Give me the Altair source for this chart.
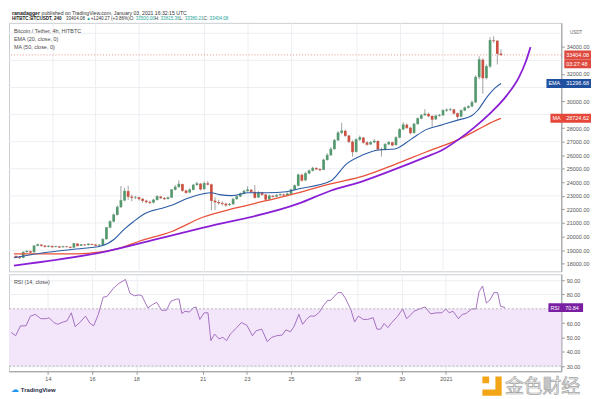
import altair as alt
import pandas as pd

# ---------------- data ----------------
opens = [18560, 18480, 18430, 18850, 18920, 18840, 19310, 19400, 19330, 19250,
         19300, 19230, 19270, 19210, 19260, 19240, 19180, 19480, 19320, 19400,
         19370, 19450, 19410, 19340, 19380, 19800, 20660, 21100, 21600, 22170,
         22660, 23350, 22950, 22880, 22900, 22780, 22650, 22560, 22500, 22700,
         22950, 22850, 22780, 22870, 23450, 23650, 23870, 23400, 23250, 23450,
         23800, 23900, 23500, 23930, 23850, 22650, 22550, 22480, 22420, 22320,
         22380, 22760, 22950, 23150, 23350, 23450, 23300, 22880, 23250, 23100,
         22750, 23000, 22950, 23050, 23100, 23050, 23150, 23450, 23750, 24550,
         24150, 24650, 24850, 25050, 24980, 24920, 25650, 26000, 26450, 27100,
         27650, 27800, 27450, 27000, 26250, 27150, 27300, 26950, 26800, 26950,
         27050, 26450, 26400, 26800, 26950, 26750, 27300, 27900, 28250, 28030,
         27650, 28300, 28700, 28950, 29050, 28900, 28650, 28900, 28950, 29300,
         29350, 29380, 29100, 28850, 29300, 29500, 29600, 29900, 31760, 33050,
         31700, 32550, 34480, 34450, 33500]
closes = [18480, 18430, 18850, 18920, 18840, 19310, 19400, 19330, 19250, 19300,
          19230, 19270, 19210, 19260, 19240, 19180, 19480, 19320, 19400, 19370,
          19450, 19410, 19340, 19380, 19800, 20660, 21100, 21600, 22170, 22660,
          23350, 22950, 22880, 22900, 22780, 22650, 22560, 22500, 22700, 22950,
          22850, 22780, 22870, 23450, 23650, 23870, 23400, 23250, 23450, 23800,
          23900, 23500, 23930, 23850, 22650, 22550, 22480, 22420, 22320, 22380,
          22760, 22950, 23150, 23350, 23450, 23300, 22880, 23250, 23100, 22750,
          23000, 22950, 23050, 23100, 23050, 23150, 23450, 23750, 24550, 24150,
          24650, 24850, 25050, 24980, 24920, 25650, 26000, 26450, 27100, 27650,
          27800, 27450, 27000, 26250, 27150, 27300, 26950, 26800, 26950, 27050,
          26450, 26400, 26800, 26950, 26750, 27300, 27900, 28250, 28030, 27650,
          28300, 28700, 28950, 29050, 28900, 28650, 28900, 28950, 29300, 29350,
          29380, 29100, 28850, 29300, 29500, 29600, 29900, 31760, 33050, 31700,
          32550, 34480, 34450, 33500, 33404.08]
highs = [18620, 18560, 18900, 18990, 18960, 19350, 19480, 19450, 19380, 19350,
         19330, 19320, 19300, 19310, 19300, 19280, 19520, 19500, 19450, 19440,
         19500, 19480, 19440, 19420, 19850, 20700, 21200, 21700, 22300, 23730,
         23600, 23750, 23100, 23000, 22950, 22850, 22720, 22650, 22780, 23050,
         23000, 22900, 22950, 23500, 23800, 24150, 23900, 23450, 23550, 23880,
         24050, 23950, 24050, 24100, 23900, 22900, 22700, 22600, 22500, 22500,
         22850, 23050, 23250, 23450, 23700, 23500, 23800, 23350, 23300, 23150,
         23100, 23080, 23120, 23180, 23150, 23250, 23520, 23850, 24650, 24650,
         24750, 24950, 25150, 25120, 25050, 25750, 26150, 26600, 27200, 27800,
         28390, 27900, 27500, 27100, 27250, 27450, 27350, 27050, 27050, 27200,
         27100, 26550, 26900, 27050, 27000, 27400, 28000, 28450, 28350, 28100,
         28400, 28800, 29050, 29400, 29150, 28950, 29000, 29050, 29400, 29450,
         29500, 29420, 29150, 29400, 29600, 29700, 30050, 31900, 33300, 33150,
         32700, 34720, 34780, 34500, 33815.36]
lows = [18420, 18350, 18400, 18800, 18780, 18820, 19280, 19250, 19200, 19200,
        19180, 19190, 19150, 19180, 19190, 19120, 19160, 19280, 19290, 19320,
        19340, 19360, 19300, 19300, 19350, 19780, 20600, 21050, 21550, 22100,
        22600, 22700, 22600, 22750, 22650, 22500, 22450, 22380, 22450, 22650,
        22780, 22700, 22720, 22850, 23400, 23600, 23300, 23150, 23200, 23400,
        23750, 23400, 23450, 23780, 21940, 21950, 22350, 22300, 22200, 22250,
        22350, 22700, 22900, 23100, 23300, 23200, 22800, 22850, 23000, 22650,
        22700, 22880, 22900, 23000, 22980, 23000, 23100, 23400, 23700, 24050,
        24100, 24600, 24800, 24900, 24820, 24900, 25600, 25950, 26400, 27050,
        27550, 27350, 26900, 25900, 26200, 27050, 26850, 26700, 26750, 26900,
        26350, 25900, 26350, 26750, 26650, 26700, 27250, 27850, 27950, 27550,
        27600, 28250, 28650, 28900, 28800, 28100, 28600, 28850, 28900, 29200,
        29250, 29000, 28630, 28800, 29250, 29450, 29550, 29850, 31610, 30540,
        31600, 32450, 34300, 32700, 33380.21]
first_candle = "2020-12-12 08:00"

# EMA 20 (days after Dec 14 00:00, price)
ema_days = [-1.76, -0.40, 1.10, 2.25, 2.86, 3.30, 3.74, 4.32, 5.07, 5.51, 6.21, 6.96,
            7.31, 7.71, 8.28, 9.03, 9.91, 10.79, 11.37, 12.82, 13.57, 14.32, 15.02,
            15.77, 16.52, 17.22, 17.97, 18.72, 19.30, 19.60, 20.04, 20.40, 20.67]
ema_vals = [18430, 18800, 19080, 19300, 19800, 20510, 21090, 21730, 22090, 22300, 22800,
            23160, 23230, 23090, 23020, 23230, 23230, 23310, 23520, 24090, 25380, 26030,
            26390, 26460, 27170, 27890, 28250, 28610, 28890, 29320, 30330, 30970, 31296.68]
# MA 50
ma_days = [-1.76, -0.40, 1.10, 2.25, 3.00, 4.01, 5.51, 6.96, 8.41, 9.91, 11.37, 12.82,
           14.32, 15.77, 17.22, 18.72, 19.60, 20.18, 20.67]
ma_vals = [18720, 18720, 18720, 18865, 19080, 19650, 20370, 21440, 22090, 22660, 23240,
           23880, 24450, 25310, 26240, 27170, 27890, 28390, 28724.62]
# hand-drawn parabolic curve
curve_days = [-1.76, 2.56, 4.76, 6.96, 11.37, 12.82, 14.32, 15.77, 17.22, 17.97, 18.72,
              19.43, 20.18, 20.93, 21.50, 21.81, 22.03]
curve_vals = [17860, 18930, 19790, 20650, 22440, 23380, 24090, 24950, 25880, 26390, 27170,
              28040, 29110, 30400, 31760, 32900, 33980]
# RSI 14
rsi_days = [-1.66, -1.46, -1.24, -0.99, -0.79, -0.57, -0.32, -0.07, 0.05, 0.27, 0.44, 0.69,
            0.86, 1.06, 1.23, 1.44, 1.70, 1.90, 2.07, 2.28, 2.50, 2.67, 2.96, 3.21, 3.51,
            3.71, 3.91, 4.13, 4.25, 4.52, 4.72, 4.92, 5.14, 5.36, 5.56, 5.81, 5.93, 6.06,
            6.20, 6.40, 6.57, 6.70, 6.87, 7.07, 7.24, 7.37, 7.54, 7.74, 7.91, 8.08, 8.25,
            8.50, 8.75, 9.00, 9.25, 9.42, 9.67, 9.92, 10.13, 10.34, 10.60, 10.76, 10.97,
            11.13, 11.35, 11.52, 11.69, 11.86, 12.07, 12.28, 12.44, 12.65, 12.78, 12.95,
            13.12, 13.28, 13.45, 13.70, 13.87, 14.04, 14.26, 14.46, 14.71, 14.88, 15.05,
            15.21, 15.38, 15.55, 15.80, 16.05, 16.22, 16.39, 16.56, 16.81, 17.06, 17.31,
            17.57, 17.82, 17.99, 18.15, 18.32, 18.57, 18.74, 18.91, 19.16, 19.36, 19.50,
            19.66, 19.83, 20.00, 20.17, 20.34, 20.47, 20.67]
rsi_vals = [53.5, 51.2, 58.1, 58.1, 64.9, 66.1, 63.1, 63.1, 63.8, 60.4, 59.2, 60.8, 61.5,
            67.2, 57.6, 60.4, 64.9, 59.9, 58.1, 66.1, 78.1, 78.6, 84.3, 87.7, 90.5, 80.9,
            79.1, 79.7, 79.1, 70.6, 72.9, 74.5, 69.0, 69.0, 75.2, 76.8, 76.8, 66.7, 68.3,
            67.7, 70.6, 71.3, 62.6, 67.2, 67.2, 47.8, 52.4, 49.0, 50.1, 47.8, 52.4, 56.2,
            60.4, 58.5, 51.2, 54.7, 55.8, 47.1, 50.1, 51.2, 51.7, 55.3, 54.0, 57.6, 66.1,
            59.2, 62.6, 64.9, 64.9, 67.7, 71.8, 75.9, 75.9, 78.6, 81.3, 81.3, 77.5, 69.5,
            60.8, 64.9, 62.6, 62.6, 63.8, 55.8, 55.8, 59.7, 56.9, 60.4, 64.5, 69.9, 63.1,
            65.4, 68.3, 69.9, 71.3, 66.5, 67.2, 67.2, 69.9, 67.2, 68.3, 63.1, 66.1, 66.7,
            69.9, 69.9, 82.0, 85.9, 74.0, 76.3, 81.3, 81.3, 71.8, 70.84]

date_ticks = [0, 2, 4, 7, 9, 11, 14, 16, 18]
date_labels = ["14", "16", "18", "21", "23", "25", "28", "30", "2021"]
# labels hidden under the coloured value boxes (29000, 31000, 33000) are left out
price_ticks = [18000, 19000, 20000, 21000, 22000, 23000, 24000, 25000, 26000,
               27000, 28000, 30000, 32000, 34000]
price_grid = [19000, 21000, 23000, 25000, 27000, 29000, 31000, 33000, 35000]
rsi_ticks = [30, 40, 50, 60, 80, 90]
rsi_band = [30, 70]
last_price = 33404.08
last_ema = 31296.68
last_ma = 28724.62
last_rsi = 70.84

header1 = [("ranadagger", "b", "#222222"),
           ("published on TradingView.com, January 03, 2021 16:32:15 UTC", "n", "#333333")]
header2 = [("HITBTC:BTCUSDT, 240", "b", "#222222"), ("33404.08", "n", "#333333"),
           ("▲", "n", "#26a69a"), ("+1240.27 (+3.86%)", "n", "#333333"),
           ("O:", "n", "#333333"), ("33500.00", "n", "#26a69a"), ("H:", "n", "#333333"),
           ("33815.36", "n", "#26a69a"), ("L:", "n", "#333333"), ("33380.21", "n", "#26a69a"),
           ("C:", "n", "#333333"), ("33404.08", "n", "#26a69a")]
header2_nogap = {4, 6, 8, 10}   # "O:" etc. directly followed by their values

# ---------------- layout / style ----------------
W, H1, H2 = 558, 251, 98
XMIN, XMAX = -1.76, 23.22
PMIN, PMAX = 17432, 35770
RMIN, RMAX = 26.4, 94.1
FONT = "Liberation Sans"
FS = 5.5
GREEN, DOWN, WICK = "#55996f", "#cc5040", "#8a8a8a"
GRID = "#eceef2"
AXC = "#555555"

# Arial / Liberation Sans advance widths (per 1000 em)
CW = {c: 556 for c in "0123456789abdeghnopqu$#"}
CW.update({" ": 278, ".": 278, ",": 278, ":": 278, "/": 278, "+": 584, "(": 333, ")": 333,
           "%": 889, "▲": 700, "c": 500, "f": 278, "i": 222, "j": 222, "k": 500, "l": 222,
           "m": 833, "r": 333, "s": 500, "t": 278, "v": 500, "w": 722, "x": 500, "y": 500,
           "z": 500, "A": 667, "B": 667, "C": 722, "D": 722, "E": 667, "H": 722, "I": 278,
           "J": 500, "L": 556, "M": 833, "O": 778, "S": 667, "T": 611, "U": 722, "V": 667})


def tw(s, size, bold):
    return sum(CW.get(ch, 556) for ch in s) / 1000.0 * size * (1.07 if bold else 1.0)


times = pd.date_range(first_candle, periods=len(closes), freq="4h")
day = (times - pd.Timestamp("2020-12-14")) / pd.Timedelta(days=1)
candles = pd.DataFrame({"day": day, "open": opens, "high": highs,
                        "low": lows, "close": closes})
candles["dir"] = ["up" if c >= o else "down" for o, c in zip(opens, closes)]

ema_df = pd.DataFrame({"day": ema_days, "v": ema_vals})
ma_df = pd.DataFrame({"day": ma_days, "v": ma_vals})
curve_df = pd.DataFrame({"day": curve_days, "v": curve_vals})
rsi_df = pd.DataFrame({"day": rsi_days, "v": rsi_vals})

xs = alt.Scale(domain=[XMIN, XMAX], nice=False, zero=False)
ps = alt.Scale(domain=[PMIN, PMAX], nice=False, zero=False)
rs = alt.Scale(domain=[RMIN, RMAX], nice=False, zero=False)

price_axis = alt.Axis(orient="right", values=price_ticks, format=".2f", title=None,
                      grid=False, tickSize=3, tickColor="#9a9a9a", domainColor="#9a9a9a",
                      labelFontSize=FS, labelColor=AXC, labelPadding=2, labelFont=FONT)
x_top = alt.X("day:Q", scale=xs, axis=alt.Axis(values=date_ticks, labels=False, ticks=False,
                                               domain=False, grid=True, gridColor=GRID,
                                               title=None))


def PY(field):
    return alt.Y(f"{field}:Q", scale=ps, axis=price_axis)


def txt(s, x, y, color="#555555", size=FS, weight="normal", align="left", font=FONT):
    return alt.Chart(pd.DataFrame({"t": [s]})).mark_text(
        align=align, baseline="middle", fontSize=size, color=color, fontWeight=weight,
        font=font).encode(text="t:N", x=alt.value(x), y=alt.value(y))


def header_layers(parts, y, size, x0=3, nogap=()):
    out, x = [], x0
    for k, (s, w, c) in enumerate(parts):
        bold = (w == "b")
        out.append(txt(s, x, y, color=c, size=size, weight="bold" if bold else "normal"))
        x += tw(s, size, bold)
        if k + 1 not in nogap:
            x += tw(" ", size, False)
    return out


grid_layer = alt.Chart(pd.DataFrame({"v": price_grid})).mark_rule(
    color=GRID, strokeWidth=1).encode(y=PY("v"))
price_line = alt.Chart(pd.DataFrame({"v": [last_price]})).mark_rule(
    color="#e0584a", strokeDash=[1, 2], strokeWidth=0.8, opacity=0.8).encode(y=PY("v"))
wicks = alt.Chart(candles).mark_rule(color=WICK, strokeWidth=0.8).encode(
    x=x_top, y=PY("low"), y2="high")
color_enc = alt.Color("dir:N", scale=alt.Scale(domain=["up", "down"], range=[GREEN, DOWN]),
                      legend=None)
bodies = alt.Chart(candles).mark_bar(size=2.7).encode(
    x=x_top, y=PY("open"), y2="close", color=color_enc)
body_min = alt.Chart(candles).mark_tick(orient="horizontal", size=2.7, thickness=0.8).encode(
    x=x_top, y=PY("close"), color=color_enc)
ma_line = alt.Chart(ma_df).mark_line(color="#e8513a", strokeWidth=1.3,
                                     interpolate="monotone").encode(x=x_top, y=PY("v"))
ema_line = alt.Chart(ema_df).mark_line(color="#2c5ca6", strokeWidth=1.1,
                                       interpolate="monotone").encode(x=x_top, y=PY("v"))
curve_line = alt.Chart(curve_df).mark_line(color="#8a1fd6", strokeWidth=1.8, clip=True,
                                           interpolate="monotone").encode(x=x_top, y=PY("v"))


def box(value, x0, x1, color, y0, y1):
    return alt.Chart(pd.DataFrame({"v": [value]})).mark_rect(
        color=color, yOffset=y0, y2Offset=y1).encode(
        x=alt.value(x0), x2=alt.value(x1), y=PY("v"), y2="v")


def boxtext(value, s, x, dy=0, color="white"):
    return alt.Chart(pd.DataFrame({"v": [value], "t": [s]})).mark_text(
        align="left", baseline="middle", fontSize=FS, color=color, font=FONT, dy=dy).encode(
        x=alt.value(x), y=PY("v"), text="t:N")


top_layers = [
    grid_layer, price_line, wicks, bodies, body_min, ma_line, ema_line, curve_line,
    box(last_price, W + 3, W + 30, "#de4b3e", -4.5, 4.5),
    boxtext(last_price, "33404.08", W + 5),
    box(last_price, W + 3, W + 30, "#de4b3e", 4.5, 13.5),
    boxtext(last_price, "03:27:48", W + 5, dy=9),
    box(last_ema, W - 15, W + 30, "#1f4f9f", -4.5, 4.5),
    boxtext(last_ema, "EMA", W - 13),
    boxtext(last_ema, "31296.68", W + 5),
    box(last_ma, W - 11, W + 30, "#e5473a", -4.5, 4.5),
    boxtext(last_ma, "MA", W - 9),
    boxtext(last_ma, "28724.62", W + 5),
    txt("USDT", W + 15, 10, color="#666666", size=4.5, align="center"),
    txt("Bitcoin / Tether, 4h, HITBTC", 5, 8, color="#4a4a4a"),
    txt("EMA (20, close, 0)", 5, 16.3, color="#4a4a4a"),
    txt("MA (50, close, 0)", 5, 24.6, color="#4a4a4a"),
]
top_layers += header_layers(header1, -10, 5.2)
top_layers += header_layers(header2, -3.8, 4.6, nogap=header2_nogap)
top = alt.layer(*top_layers).properties(width=W, height=H1)


# ---------------- RSI pane ----------------
def label_expr(vals, labs):
    expr = "''"
    for v, l in zip(reversed(vals), reversed(labs)):
        expr = f"datum.value == {v} ? '{l}' : {expr}"
    return expr


x_bot = alt.X("day:Q", scale=xs, axis=alt.Axis(
    values=date_ticks, labelExpr=label_expr(date_ticks, date_labels), grid=True,
    gridColor=GRID, tickSize=3, tickColor="#9a9a9a", domainColor="#9a9a9a",
    labelFontSize=FS, labelColor=AXC, labelPadding=2, labelFont=FONT, title=None))
rsi_axis = alt.Axis(orient="right", values=rsi_ticks, format=".2f", title=None, grid=True,
                    gridColor=GRID, tickSize=3, tickColor="#9a9a9a", domainColor="#9a9a9a",
                    labelFontSize=FS, labelColor=AXC, labelPadding=2, labelFont=FONT)


def RY(field):
    return alt.Y(f"{field}:Q", scale=rs, axis=rsi_axis)


band = alt.Chart(pd.DataFrame({"lo": [rsi_band[0]], "hi": [rsi_band[1]]})).mark_rect(
    color="#f3e6fb").encode(x=alt.value(0), x2=alt.value(W), y=RY("lo"), y2="hi")
band_rules = alt.Chart(pd.DataFrame({"v": rsi_band})).mark_rule(
    color="#a8a8a8", strokeDash=[2, 2], strokeWidth=0.8).encode(y=RY("v"))
rsi_line = alt.Chart(rsi_df).mark_line(color="#9a62b8", strokeWidth=0.9).encode(
    x=x_bot, y=RY("v"))
rsi_box = alt.Chart(pd.DataFrame({"v": [last_rsi]})).mark_rect(
    color="#7b1fa2", yOffset=-4.5, y2Offset=4.5).encode(
    x=alt.value(W - 13), x2=alt.value(W + 22), y=RY("v"), y2="v")
rsi_box_t1 = alt.Chart(pd.DataFrame({"v": [last_rsi], "t": ["RSI"]})).mark_text(
    align="left", baseline="middle", fontSize=FS, color="white", font=FONT).encode(
    x=alt.value(W - 11), y=RY("v"), text="t:N")
rsi_box_t2 = alt.Chart(pd.DataFrame({"v": [last_rsi], "t": ["70.84"]})).mark_text(
    align="left", baseline="middle", fontSize=FS, color="white", font=FONT).encode(
    x=alt.value(W + 4), y=RY("v"), text="t:N")

icon_path = ("M-1,-1L-0.3,-1L-0.3,-0.3L-1,-0.3Z "
             "M0.35,-1L1,-1L1,1L-1,1L-1,0.35L0.35,0.35Z")
icon = alt.Chart(pd.DataFrame({"a": [1]})).mark_point(
    shape=icon_path, filled=True, color="#f2a516", opacity=1, size=380).encode(
    x=alt.value(W - 70), y=alt.value(H2 + 15))
wm = alt.Chart(pd.DataFrame({"t": ["金色财经"]})).mark_text(
    align="left", baseline="middle", fontSize=19, font="Noto Sans CJK SC",
    color="#f1f1f1", stroke="#a3a3a3", strokeWidth=0.7).encode(
    text="t:N", x=alt.value(W - 57), y=alt.value(H2 + 16))

bottom = alt.layer(
    band, rsi_line, band_rules, rsi_box, rsi_box_t1, rsi_box_t2,
    txt("RSI (14, close)", 5, 8, color="#4a4a4a"),
    txt("☁", 2, H2 + 19, color="#2196f3", size=8, font="DejaVu Sans"),
    txt("TradingView", 12, H2 + 19, color="#1e2a44", size=6, weight="bold"),
    icon, wm,
).properties(width=W, height=H2)

chart = alt.vconcat(top, bottom, spacing=1).properties(
    padding={"left": 0, "top": 0, "right": 0, "bottom": 0}
).configure_view(stroke="#c9ccd1", strokeWidth=1).configure_concat(spacing=1)

chart.save("out.html", embed_options={"renderer": "svg", "actions": False})
